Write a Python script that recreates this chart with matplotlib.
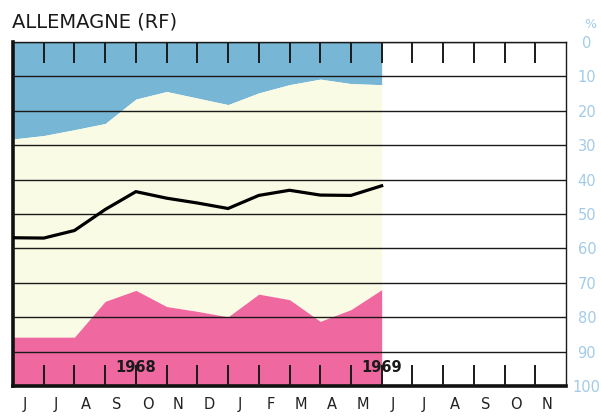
import matplotlib.pyplot as plt
import matplotlib.transforms as mtransforms

# months Jun 1968 .. Jun 1969 (index 0..12), axis runs to Nov 1969
month_labels = ['J', 'J', 'A', 'S', 'O', 'N', 'D', 'J', 'F', 'M', 'A', 'M',
                'J', 'J', 'A', 'S', 'O', 'N']
months = list(range(13))

# percent values (0 at top, 100 at bottom)
blue_edge = [28.2, 27.2, 25.5, 23.7, 16.6, 14.4, 16.3, 18.2, 14.8, 12.4, 10.8, 12.1, 12.4]
middle_line = [56.9, 57.0, 54.8, 48.7, 43.5, 45.4, 46.8, 48.4, 44.6, 43.1, 44.5, 44.6, 41.8]
pink_edge = [85.8, 85.8, 85.8, 75.4, 72.2, 76.9, 78.3, 79.9, 73.3, 74.9, 81.2, 77.8, 72.0]

years = [(4, '1968'), (12, '1969')]

BLUE = '#78b6d6'
CREAM = '#fafbe4'
PINK = '#ef689f'
LABEL_BLUE = '#a3cbe8'

fig = plt.figure(figsize=(6.01, 4.17), dpi=100)
ax = fig.add_axes([13 / 601, 1 - 386 / 417, 553 / 601, 344 / 417])

ax.fill_between(months, 0, blue_edge, color=BLUE, lw=0, zorder=1)
ax.fill_between(months, blue_edge, pink_edge, color=CREAM, lw=0, zorder=1)
ax.fill_between(months, pink_edge, 100, color=PINK, lw=0, zorder=1)
ax.plot(months, middle_line, color='black', lw=2.3, zorder=4, solid_joinstyle='miter')

ax.set_xlim(0, 18)
ax.set_ylim(100, 0)

# horizontal rules every 10 %
ax.set_yticks(range(0, 101, 10))
ax.grid(axis='y', color='#1a1a1a', lw=1.0)
ax.set_axisbelow(False)

# month ticks on top and bottom edges
ax.set_xticks(range(1, 18))
ax.tick_params(axis='x', top=True, bottom=True, direction='in', length=15,
               width=1.4, color='#1a1a1a', labelbottom=False, labeltop=False)

# percent scale on the right
ax.yaxis.tick_right()
ax.tick_params(axis='y', right=False, left=False, length=0, pad=15,
               labelsize=10.5, labelcolor=LABEL_BLUE)
for lab in ax.get_yticklabels():
    lab.set_horizontalalignment('center')
ax.text(1.043, -5, '%', transform=mtransforms.blended_transform_factory(ax.transAxes, ax.transData),
        ha='center', va='center', fontsize=9, color=LABEL_BLUE)

for side in ['top', 'right']:
    ax.spines[side].set_linewidth(1.0)
    ax.spines[side].set_color('#1a1a1a')
for side in ['left', 'bottom']:
    ax.spines[side].set_linewidth(2.6)
    ax.spines[side].set_color('#111111')

trans = mtransforms.blended_transform_factory(ax.transData, ax.transAxes)
for i, m in enumerate(month_labels):
    ax.text(i + 0.38, -0.055, m, transform=trans, ha='center', va='center',
            fontsize=10.5, color='#222222')

for x, y in years:
    ax.text(x, 94.5, y, ha='center', va='center', fontsize=10.5,
            fontweight='bold', color='#1a1a1a', zorder=5)

fig.text(12 / 601, 1 - 27 / 417, 'ALLEMAGNE (RF)', ha='left', va='baseline',
         fontsize=14, color='#1a1a1a')

fig.savefig('out.png', dpi=100)
